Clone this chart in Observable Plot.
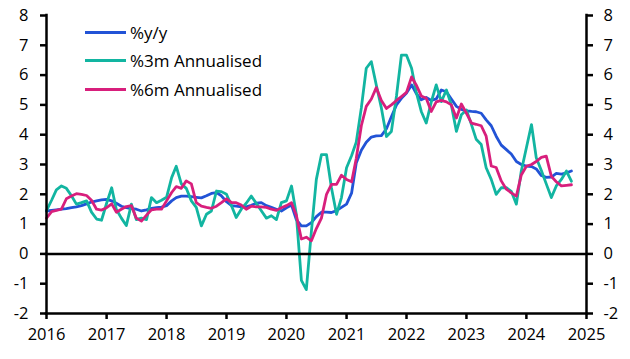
<!DOCTYPE html>
<html><head><meta charset="utf-8">
<script src="https://cdn.jsdelivr.net/npm/d3@7"></script>
<script src="https://cdn.jsdelivr.net/npm/@observablehq/plot@0.6"></script>
<style>
body{margin:0;background:#fff;}
#wrap{position:relative;width:630px;height:359px;font-family:"Open Sans",sans-serif;}
#legend{position:absolute;left:85px;top:18px;}
.item{display:flex;align-items:center;height:28.5px;font-size:17px;color:#000;white-space:nowrap;}
.sw{width:41px;height:3px;margin-right:4px;}
</style></head><body>
<div id="wrap"><div id="chart"></div><div id="legend"></div></div>
<script>
// Monthly data, Jan 2016 onwards
const startYear = 2016;
const yoy = [
1.44,1.46,1.48,1.50,1.52,1.55,1.58,1.62,1.68,1.74,1.78,1.81,
1.83,1.78,1.70,1.60,1.55,1.52,1.50,1.44,1.48,1.53,1.55,1.57,
1.62,1.78,1.89,1.94,1.94,1.92,1.90,1.88,1.95,2.03,2.06,1.95,
1.75,1.62,1.60,1.58,1.58,1.63,1.70,1.72,1.62,1.56,1.50,1.44,
1.55,1.64,1.15,0.94,0.94,1.05,1.25,1.40,1.40,1.39,1.45,1.56,
1.67,2.05,3.05,3.48,3.75,3.92,3.96,3.97,4.20,4.60,5.00,5.22,
5.40,5.67,5.39,5.17,5.25,5.15,5.20,5.50,5.44,5.20,4.95,4.85,
4.80,4.78,4.77,4.72,4.50,4.30,3.95,3.65,3.50,3.35,3.10,3.00,
2.95,2.93,2.85,2.63,2.57,2.58,2.70,2.68,2.72,2.78];
const ann3m = [
1.45,1.80,2.15,2.28,2.20,1.95,1.67,1.72,1.78,1.40,1.17,1.13,
1.70,2.22,1.50,1.20,0.95,1.67,1.15,1.20,1.15,1.89,1.72,1.80,
1.90,2.56,2.94,2.35,2.20,1.78,1.56,0.94,1.33,1.44,2.11,2.09,
2.00,1.61,1.22,1.50,1.70,1.94,1.70,1.45,1.20,1.28,1.15,1.72,
1.78,2.28,1.33,-0.89,-1.20,0.76,2.50,3.33,3.33,2.22,1.33,1.89,
2.89,3.30,3.75,4.90,6.23,6.45,5.67,4.90,3.94,4.11,5.30,6.67,
6.67,6.23,5.44,4.78,4.39,5.10,5.67,5.11,5.50,5.00,4.11,4.67,
4.83,4.33,3.85,3.67,2.89,2.50,2.00,2.22,2.22,2.10,1.67,2.78,
3.56,4.34,3.23,2.80,2.35,1.89,2.28,2.50,2.78,2.44];
const ann6m = [
1.20,1.42,1.46,1.50,1.85,1.94,2.02,2.00,1.96,1.80,1.50,1.47,
1.55,1.68,1.40,1.50,1.59,1.62,1.20,1.10,1.30,1.48,1.50,1.50,
1.78,2.06,2.26,2.20,2.45,2.35,1.72,1.60,1.56,1.53,1.60,1.72,
1.85,1.72,1.72,1.64,1.50,1.60,1.58,1.58,1.56,1.50,1.46,1.55,
1.62,1.72,1.30,0.50,0.56,0.44,0.85,1.20,2.00,2.33,2.33,2.64,
2.50,2.42,3.20,4.30,4.95,5.20,5.58,5.15,4.88,5.00,5.15,5.28,
5.42,5.94,5.67,5.30,5.22,4.78,5.10,5.15,5.10,5.00,4.56,5.03,
4.72,4.39,4.35,4.30,3.95,2.95,2.90,2.45,2.17,2.05,1.94,2.65,
2.94,3.00,3.10,3.24,3.28,2.60,2.42,2.28,2.30,2.32];

const seriesNames = ["%y/y", "%3m Annualised", "%6m Annualised"];
const seriesColors = ["#2253d6", "#12b5a1", "#d81f7c"];
const yTicks = [-2,-1,0,1,2,3,4,5,6,7,8];
const xYears = [2016,2017,2018,2019,2020,2021,2022,2023,2024,2025];

const start = new Date(Date.UTC(startYear, 0, 1));
const dates = d3.utcMonth.range(start, d3.utcMonth.offset(start, yoy.length));
const seriesValues = [yoy, ann3m, ann6m];
const rows = seriesNames.flatMap((name, k) =>
  seriesValues[k].map((v, i) => ({date: dates[i], value: v, series: name})));
const yearDates = xYears.map(y => new Date(Date.UTC(y, 0, 1)));
const xDomain = [yearDates[0], yearDates[yearDates.length - 1]];

const axisStyle = {stroke: "#000", strokeWidth: 2.5, strokeLinecap: "square"};
const chart = Plot.plot({
  width: 630, height: 359,
  marginLeft: 46, marginRight: 44, marginTop: 15, marginBottom: 46,
  style: {fontFamily: "'Open Sans', sans-serif", fontSize: "16.5px", color: "#000", background: "#fff", overflow: "visible"},
  x: {type: "utc", domain: xDomain},
  y: {domain: [yTicks[0], yTicks[yTicks.length - 1]]},
  color: {domain: seriesNames, range: seriesColors},
  marks: [
    Plot.line(rows, {x: "date", y: "value", z: "series", stroke: "series", strokeWidth: 2.8, strokeLinejoin: "round"}),
    Plot.ruleY([0], axisStyle),
    Plot.ruleX([xDomain[0]], axisStyle),
    Plot.ruleX([xDomain[1]], axisStyle),
    Plot.ruleY([yTicks[0]], axisStyle),
    Plot.axisY(yTicks, {anchor: "left", tickSize: 6, tickPadding: 12, strokeWidth: 2.5, tickFormat: d => String(d), label: null}),
    Plot.axisY(yTicks, {anchor: "right", tickSize: 6, tickPadding: 11, strokeWidth: 2.5, tickFormat: d => String(d), label: null}),
    Plot.axisX(yearDates, {tickSize: 6, tickPadding: 9, strokeWidth: 2.5, tickFormat: d3.utcFormat("%Y"), label: null})
  ]
});
document.getElementById("chart").appendChild(chart);

const legend = document.getElementById("legend");
seriesNames.forEach((name, k) => {
  const item = document.createElement("div");
  item.className = "item";
  const sw = document.createElement("span");
  sw.className = "sw";
  sw.style.background = seriesColors[k];
  const label = document.createElement("span");
  label.textContent = name;
  item.appendChild(sw);
  item.appendChild(label);
  legend.appendChild(item);
});
</script>
</body></html>
